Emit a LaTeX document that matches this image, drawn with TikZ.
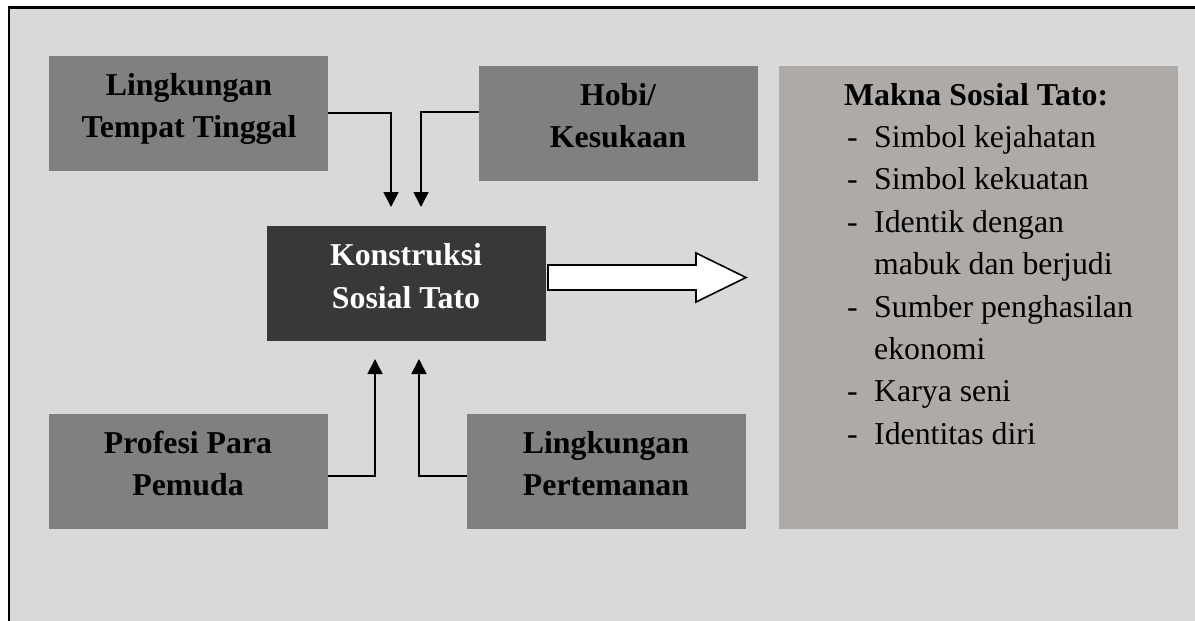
\documentclass[tikz,border=0pt]{standalone}
\usepackage{fontspec}
\setmainfont{Liberation Serif}
\usetikzlibrary{arrows.meta}
\definecolor{bg}{HTML}{D9D9D9}
\definecolor{boxgray}{HTML}{808080}
\definecolor{darkbox}{HTML}{3A3738}
\definecolor{rbox}{HTML}{AEAAA8}
\tikzset{
  gbox/.style={fill=boxgray, draw=none, inner sep=0pt},
  btxt/.style={font=\fontsize{31.8}{42}\selectfont\bfseries, anchor=base, inner sep=0pt},
  ltxt/.style={font=\fontsize{31.8}{42}\selectfont, anchor=base west, inner sep=0pt},
  conn/.style={line width=1.6pt, -{Triangle[width=15pt,length=15pt]}},
  bigarrow/.style={fill=white, draw=black, line width=1.6pt, line join=miter},
}
\begin{document}
\begin{tikzpicture}[x=1pt,y=-1pt]
\useasboundingbox (0,0) rectangle (1195,621);
% background and frame
\fill[bg] (9,7.5) rectangle (1195,621);
\draw[line width=2.6pt] (9,621) -- (9,7.5) -- (1195,7.5);

% boxes
\node[gbox, minimum width=279pt, minimum height=115pt] (lt) at (188.5,113.5) {};
\node[gbox, minimum width=279pt, minimum height=115pt] (hb) at (618.5,123.5) {};
\node[gbox, fill=darkbox, minimum width=279pt, minimum height=115pt] (ks) at (406.5,283.5) {};
\node[gbox, minimum width=279pt, minimum height=115pt] (pp) at (188.5,471.5) {};
\node[gbox, minimum width=279pt, minimum height=115pt] (lp) at (606.5,471.5) {};
\node[fill=rbox, draw=none, inner sep=0pt, minimum width=399pt, minimum height=463pt] (mk) at (978.5,297.5) {};

% box texts
\node[btxt] (lt1) at (189,95) {Lingkungan};
\node[btxt] (lt2) at (189,137) {Tempat Tinggal};
\node[btxt] (hb1) at (618,105) {Hobi/};
\node[btxt] (hb2) at (618,147) {Kesukaan};
\node[btxt, text=white] (ks1) at (406,265) {Konstruksi};
\node[btxt, text=white] (ks2) at (406,308) {Sosial Tato};
\node[btxt] (pp1) at (188,453) {Profesi Para};
\node[btxt] (pp2) at (188,495) {Pemuda};
\node[btxt] (lp1) at (606,453) {Lingkungan};
\node[btxt] (lp2) at (606,495) {Pertemanan};

% list
\node[ltxt, font=\fontsize{31.8}{42}\selectfont\bfseries] (mkh) at (844,105) {Makna Sosial Tato:};
\foreach \i/\t/\d in {1/Simbol kejahatan/1, 2/Simbol kekuatan/1, 3/Identik dengan/1, 4/mabuk dan berjudi/0, 5/Sumber penghasilan/1, 6/ekonomi/0, 7/Karya seni/1, 8/Identitas diri/1}{
  \pgfmathsetmacro{\yy}{105+42.4*\i}
  \node[ltxt] (it\i) at (874,\yy) {\t};
  \ifnum\d=1
    \node[ltxt] (dash\i) at (847,\yy) {-};
  \fi
}

% connectors
\coordinate (t1) at (391,207);
\coordinate (t2) at (421,207);
\coordinate (b1) at (375,359);
\coordinate (b2) at (419,359);
\draw[conn] ([yshift=0.5pt]lt.east) -| (t1);
\draw[conn] ([yshift=11.5pt]hb.west) -| (t2);
\draw[conn] ([yshift=-4.5pt]pp.east) -| (b1);
\draw[conn] ([yshift=-4.5pt]lp.west) -| (b2);

% big arrow
\coordinate (ba) at ([xshift=2pt]ks.east);
\draw[bigarrow] (548,265) -- (696,265) -- (696,253) -- (746,277.5) -- (696,302) -- (696,290) -- (548,290) -- cycle;
\end{tikzpicture}
\end{document}
